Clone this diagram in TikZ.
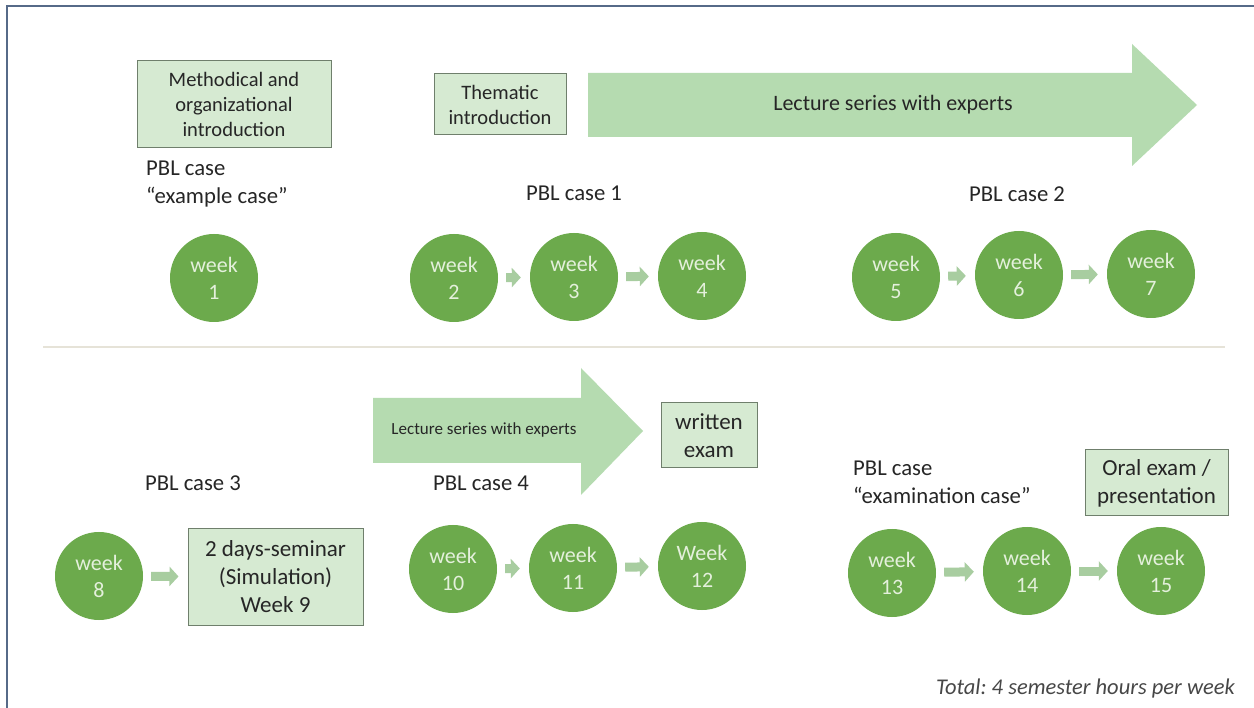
\documentclass[tikz,border=0pt]{standalone}
\usepackage{fontspec}
\setmainfont{Carlito}
\frenchspacing
\usetikzlibrary{arrows.meta}
\definecolor{circ}{HTML}{6CAA4C}
\definecolor{circtxt}{HTML}{E4F0DC}
\definecolor{boxfill}{HTML}{D6EAD2}
\definecolor{boxdraw}{HTML}{6F7F6C}
\definecolor{bigarr}{HTML}{B5DBB0}
\definecolor{smarr}{HTML}{A8CDA0}
\definecolor{framec}{HTML}{566A88}
\definecolor{sepc}{HTML}{E6E3D8}
\definecolor{txt}{HTML}{262626}
\begin{document}
\begin{tikzpicture}[x=1pt,y=-1pt,
  week/.style={circle, fill=circ, minimum size=88pt, inner sep=0pt, text=circtxt,
    font=\fontsize{22}{27}\selectfont, align=center},
  gbox/.style={draw=boxdraw, fill=boxfill, line width=1pt, align=center, text=txt, inner sep=0pt},
  topbox/.style={gbox, font=\fontsize{20.5}{25}\selectfont},
  botbox/.style={gbox, font=\fontsize{23}{28}\selectfont},
  lab/.style={text=txt, font=\fontsize{22.7}{28}\selectfont, align=left, inner sep=0pt},
  sarr/.style={draw=smarr, line width=9pt, -{Triangle[width=19pt,length=9pt]}, shorten <=8pt, shorten >=9pt},
  bigarrow/.style={fill=bigarr},
]
\useasboundingbox (0,0) rectangle (1254,708);
\fill[white] (0,0) rectangle (1254,708);
% frame
\draw[framec, line width=2pt] (7,710) -- (7,6) -- (1256,6);
% separator
\draw[sepc, line width=2.5pt] (43,347) -- (1225,347);

% ---------- top row ----------
\node[topbox, minimum width=194pt, minimum height=87pt] (meth) at (234,104.5)
  {Methodical and\\organizational\\introduction};
\node[lab, anchor=west] (pbl0) at (146,184) {PBL case\\“example case”};
\node[week] (w1) at (214,278) {week\\1};

\node[topbox, minimum width=132pt, minimum height=61pt] (them) at (500,104.5)
  {Thematic\\introduction};
\fill[bigarrow] (588,73) -- (1132,73) -- (1132,44) -- (1197,105) -- (1132,166) -- (1132,137) -- (588,137) -- cycle;
\node[text=txt, font=\fontsize{22}{26}\selectfont, inner sep=0pt] (lect1) at (893,105) {Lecture series with experts};

\node[lab] (pbl1) at (574,193) {PBL case 1};
\node[lab] (pbl2) at (1017,194) {PBL case 2};

\node[week] (w2) at (454,278) {week\\2};
\node[week] (w3) at (574,277) {week\\3};
\node[week] (w4) at (702,276) {week\\4};
\node[week] (w5) at (896,277) {week\\5};
\node[week] (w6) at (1019,275) {week\\6};
\node[week] (w7) at (1151,274) {week\\7};
\draw[sarr] (w2) -- (w3);
\draw[sarr] (w3) -- (w4);
\draw[sarr] (w5) -- (w6);
\draw[sarr] (w6) -- (w7);

% ---------- bottom row ----------
\fill[bigarrow] (373,398) -- (581,398) -- (581,368) -- (643,431) -- (581,495) -- (581,463) -- (373,463) -- cycle;
\node[text=txt, font=\fontsize{17}{20}\selectfont, inner sep=0pt] (lect2) at (484,430) {Lecture series with experts};
\node[botbox, minimum width=96pt, minimum height=65pt] (wex) at (709,435.5) {written\\exam};

\node[lab] (pbl3) at (193,483) {PBL case 3};
\node[lab] (pbl4) at (481,483) {PBL case 4};
\node[lab, anchor=west] (pbl5) at (853,482) {PBL case\\“examination case”};
\node[botbox, minimum width=143pt, minimum height=66pt] (oral) at (1156.5,483) {Oral exam /\\presentation};

\node[week] (w8) at (99,576) {week\\8};
\node[botbox, minimum width=175pt, minimum height=96pt] (sem) at (275.5,577)
  {2 days-seminar\\(Simulation)\\Week 9};
\node[week] (w10) at (453,569) {week\\10};
\node[week] (w11) at (573,568) {week\\11};
\node[week] (w12) at (702,566) {Week\\12};
\node[week] (w13) at (892,573) {week\\13};
\node[week] (w14) at (1027,571) {week\\14};
\node[week] (w15) at (1161,571) {week\\15};
\draw[sarr] (w8) -- (sem);
\draw[sarr] (w10) -- (w11);
\draw[sarr] (w11) -- (w12);
\draw[sarr] (w13) -- (w14);
\draw[sarr] (w14) -- (w15);

\node[text=black!72, font=\fontsize{22.5}{26}\selectfont\itshape, inner sep=0pt, anchor=east] (total) at (1235,688)
  {Total: 4 semester hours per week};
\end{tikzpicture}
\end{document}
